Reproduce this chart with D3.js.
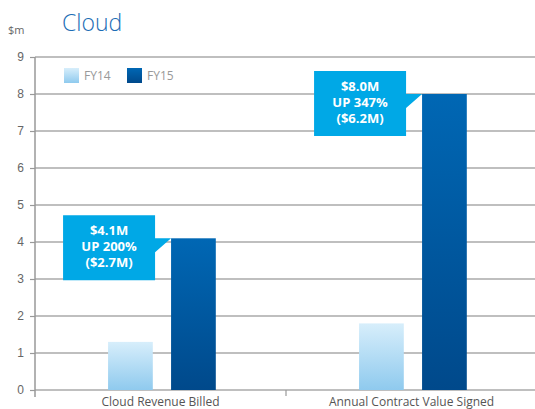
<!DOCTYPE html>
<html>
<head>
<meta charset="utf-8">
<script src="https://cdn.jsdelivr.net/npm/d3@7/dist/d3.min.js"></script>
<style>
  html, body { margin: 0; padding: 0; background: #fff; }
  svg { display: block; font-family: "Open Sans", "Noto Sans", sans-serif; }
</style>
</head>
<body>
<svg id="chart" width="535" height="409"></svg>
<script>
// Cloud metrics, $m
const categories = ["Cloud Revenue Billed", "Annual Contract Value Signed"];
const seriesNames = ["FY14", "FY15"];
const fy14 = [1.3, 1.8];
const fy15 = [4.1, 8.0];
const yTicks = [0, 1, 2, 3, 4, 5, 6, 7, 8, 9];
const calloutLines = [
  ["$4.1M", "UP 200%", "($2.7M)"],
  ["$8.0M", "UP 347%", "($6.2M)"]
];

const svg = d3.select("#chart");
const W = 535, H = 409;
const margin = { left: 35, right: -2, top: 57, bottom: 19 };

const x = d3.scaleBand().domain(categories).range([margin.left, W - margin.right]).padding(0);
const xInner = d3.scaleBand().domain(seriesNames).range([0, x.bandwidth()])
  .paddingInner(0.29).paddingOuter(1.137).align(0.51);
const y = d3.scaleLinear().domain([0, 9]).range([H - margin.bottom, margin.top]);

// gradients
const defs = svg.append("defs");
const grads = [
  { id: "gFY14", top: "#d7eefb", bottom: "#8fcaee" },
  { id: "gFY15", top: "#0067b4", bottom: "#00498b" }
];
grads.forEach(g => {
  const lg = defs.append("linearGradient").attr("id", g.id)
    .attr("x1", 0).attr("y1", 0).attr("x2", 0).attr("y2", 1);
  lg.append("stop").attr("offset", "0%").attr("stop-color", g.top);
  lg.append("stop").attr("offset", "100%").attr("stop-color", g.bottom);
});
const fillFor = { FY14: "url(#gFY14)", FY15: "url(#gFY15)" };

// grid lines + y axis
const yAxis = d3.axisLeft(y).tickValues(yTicks).tickSize(5).tickPadding(6).tickFormat(d3.format("d"));
const yg = svg.append("g").attr("transform", `translate(${margin.left},0)`).call(yAxis);
yg.select(".domain").remove();
yg.selectAll(".tick line").attr("stroke", "#999").attr("stroke-width", 1.2);
yg.selectAll(".tick text").attr("fill", "#666").attr("font-size", 12);

svg.append("g").selectAll("line").data(yTicks).join("line")
  .attr("x1", margin.left).attr("x2", W)
  .attr("y1", d => y(d)).attr("y2", d => y(d))
  .attr("stroke", "#aaa").attr("stroke-width", 1.3);

// bars
const rows = categories.map((c, i) => ({ cat: c, vals: [{ s: "FY14", v: fy14[i] }, { s: "FY15", v: fy15[i] }] }));
const groups = svg.append("g").selectAll("g").data(rows).join("g")
  .attr("transform", d => `translate(${x(d.cat)},0)`);
groups.selectAll("rect").data(d => d.vals).join("rect")
  .attr("x", d => xInner(d.s))
  .attr("width", xInner.bandwidth())
  .attr("y", d => y(d.v))
  .attr("height", d => y(0) - y(d.v))
  .attr("fill", d => fillFor[d.s]);

// vertical axis line
svg.append("line")
  .attr("x1", margin.left).attr("x2", margin.left)
  .attr("y1", y(9)).attr("y2", y(0) + 7)
  .attr("stroke", "#999").attr("stroke-width", 1.5);

// x axis ticks at category boundaries
const boundaries = [x(categories[1])];
svg.append("g").selectAll("line").data(boundaries).join("line")
  .attr("x1", d => d).attr("x2", d => d)
  .attr("y1", y(0)).attr("y2", y(0) + 6)
  .attr("stroke", "#999").attr("stroke-width", 1.2);

// x labels, tucked just above the bottom edge
svg.append("g").selectAll("text").data(categories).join("text")
  .attr("x", d => x(d) + x.bandwidth() / 2)
  .attr("y", y(0) + 16)
  .attr("text-anchor", "middle")
  .attr("fill", "#555")
  .attr("font-size", 12)
  .text(d => d);

// callouts pointing to each FY15 bar top
const boxW = 92, boxH = 65, tail = 16, tailH = 14;
rows.forEach((r, i) => {
  const barX = x(r.cat) + xInner("FY15");
  const barTop = y(fy15[i]);
  const right = barX - 16;
  const left = right - boxW;
  const top = barTop - 23;
  const bottom = top + boxH;
  const path = [
    [left, top], [right, top], [right, barTop], [right + tail, barTop],
    [right, barTop + tailH], [right, bottom], [left, bottom]
  ];
  svg.append("path")
    .attr("d", d3.line()(path) + "Z")
    .attr("fill", "#00a8e6");
  svg.append("g").selectAll("text").data(calloutLines[i]).join("text")
    .attr("x", (left + right) / 2)
    .attr("y", (d, k) => top + 19.5 + k * 16.3)
    .attr("text-anchor", "middle")
    .attr("fill", "#fff")
    .attr("font-weight", 700)
    .attr("font-size", 13)
    .text(d => d);
});

// legend
const legend = svg.append("g");
const legendX = [64, 127];
seriesNames.forEach((s, i) => {
  legend.append("rect").attr("x", legendX[i]).attr("y", 68).attr("width", 15).attr("height", 15)
    .attr("fill", fillFor[s]);
  legend.append("text").attr("x", legendX[i] + 20).attr("y", 80)
    .attr("fill", "#999").attr("font-size", 12).text(s);
});

// title and unit
svg.append("text").attr("x", 62).attr("y", 31).attr("fill", "#1c6db5")
  .attr("font-size", 23).attr("font-weight", 300).text("Cloud");
svg.append("text").attr("x", 8).attr("y", 34).attr("fill", "#666")
  .attr("font-size", 11).text("$m");
</script>
</body>
</html>
